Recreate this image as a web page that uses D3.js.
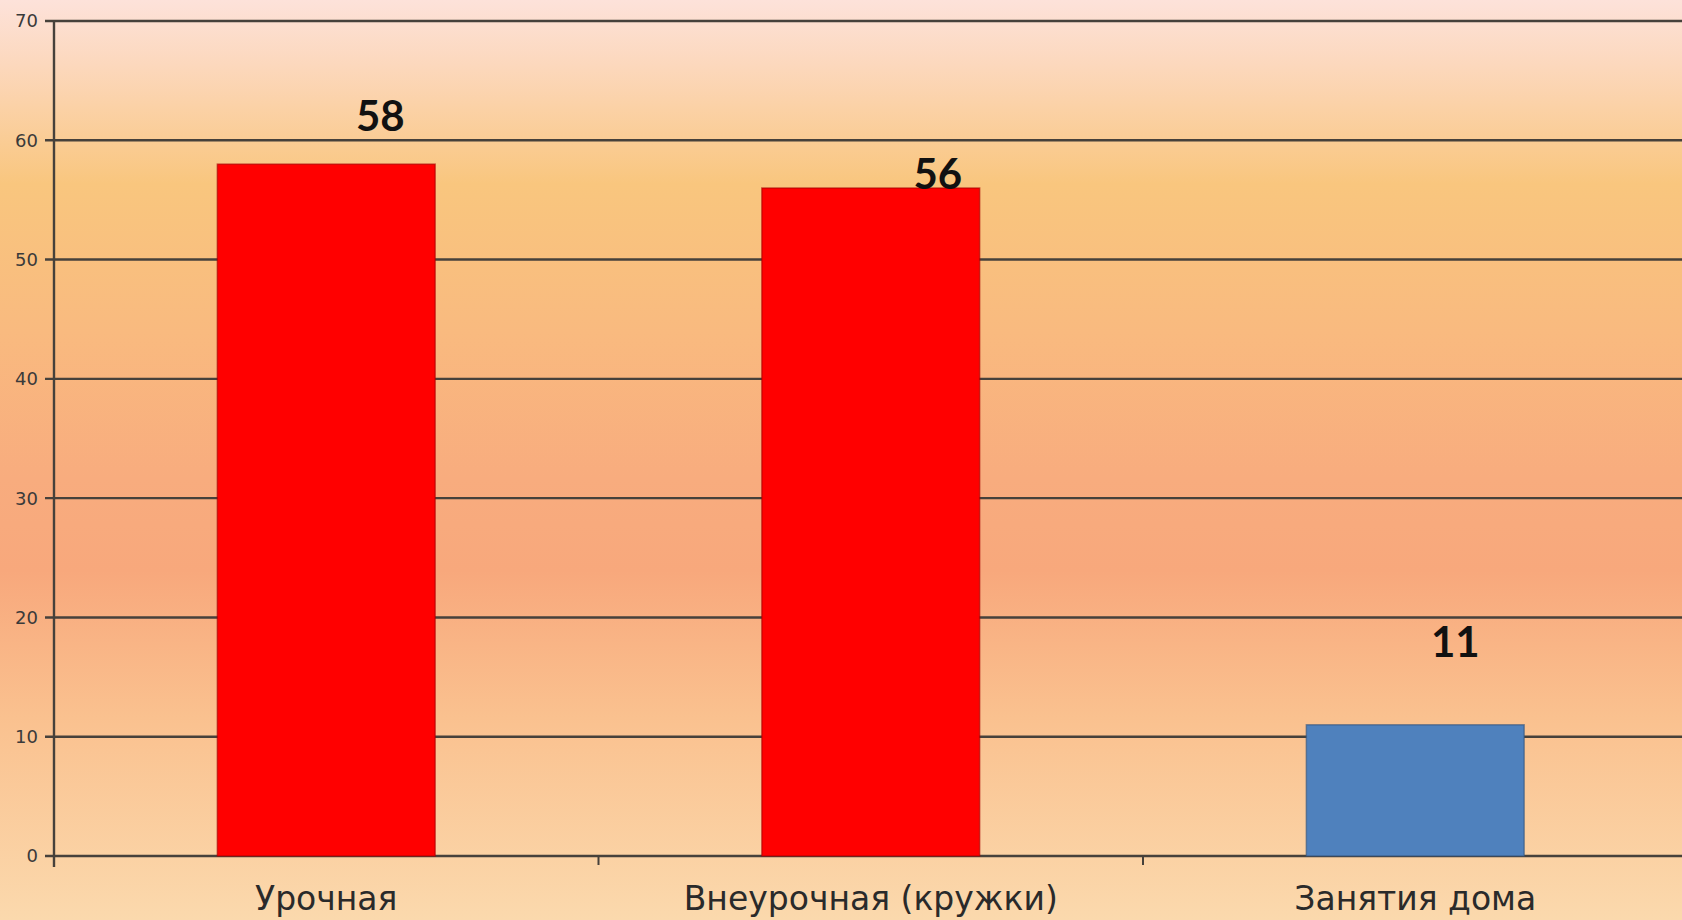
<!DOCTYPE html>
<html>
<head>
<meta charset="utf-8">
<script src="https://cdn.jsdelivr.net/npm/d3@7"></script>
<style>
  body { margin: 0; overflow: hidden; }
  svg { display: block; }
  .grid line { stroke: #46413b; stroke-width: 2.4; }
  .ytick text { font-family: "DejaVu Sans", Verdana, sans-serif; font-size: 18px; fill: #3a3a3a; }
  .xlab { font-family: "DejaVu Sans", Verdana, sans-serif; font-size: 33px; fill: #2a2a2a; }
  .vlab { font-family: Lato, "Liberation Sans", sans-serif; font-weight: bold; font-size: 42px; fill: #111; }
</style>
</head>
<body>
<svg width="1682" height="920"></svg>
<script>
// data
const categories = ["Урочная", "Внеурочная (кружки)", "Занятия дома"];
const values = [58, 56, 11];
const barColors = ["#ff0000", "#ff0000", "#4f81bd"];
const yTicks = [0, 10, 20, 30, 40, 50, 60, 70];

const W = 1682, H = 920;
const plotLeft = 54, plotTop = 21, plotBottom = 856;
const step = 544.5;

const svg = d3.select("svg");

// background gradient
const grad = svg.append("defs").append("linearGradient")
    .attr("id", "bg").attr("x1", 0).attr("y1", 0).attr("x2", 0).attr("y2", 1);
[[0, "#fde2da"], [0.07, "#fcd8bd"], [0.2, "#f9c67e"], [0.36, "#f9ba7f"],
 [0.52, "#f8ac7e"], [0.62, "#f8a87c"], [0.78, "#fac18f"], [1, "#fbd9ad"]]
  .forEach(s => grad.append("stop").attr("offset", s[0]).attr("stop-color", s[1]));
svg.append("rect").attr("width", W).attr("height", H).attr("fill", "url(#bg)");

const x = d3.scaleBand().domain(categories)
    .range([plotLeft, plotLeft + step * categories.length])
    .paddingInner(0.6).paddingOuter(0.3);
const y = d3.scaleLinear().domain([0, 70]).range([plotBottom, plotTop]);

// gridlines
svg.append("g").attr("class", "grid")
  .selectAll("line").data(yTicks).join("line")
    .attr("x1", plotLeft - 9).attr("x2", W)
    .attr("y1", d => y(d)).attr("y2", d => y(d));

// y axis line
svg.append("line")
    .attr("x1", plotLeft).attr("x2", plotLeft).attr("y1", plotTop).attr("y2", plotBottom + 11)
    .attr("stroke", "#46413b").attr("stroke-width", 2.4);

// x axis ticks between categories
svg.append("g").selectAll("line").data(d3.range(1, categories.length)).join("line")
    .attr("x1", i => plotLeft + step * i).attr("x2", i => plotLeft + step * i)
    .attr("y1", plotBottom).attr("y2", plotBottom + 9)
    .attr("stroke", "#46413b").attr("stroke-width", 2);

// y tick labels
svg.append("g").attr("class", "ytick")
  .selectAll("text").data(yTicks).join("text")
    .attr("x", plotLeft - 16).attr("y", d => y(d))
    .attr("dy", "0.36em").attr("text-anchor", "end")
    .text(d => d);

// bars
svg.append("g").selectAll("rect").data(values).join("rect")
    .attr("x", (d, i) => x(categories[i]))
    .attr("width", x.bandwidth())
    .attr("y", d => y(d))
    .attr("height", d => y(0) - y(d))
    .attr("fill", (d, i) => barColors[i])
    .attr("stroke", (d, i) => d3.color(barColors[i]).darker(1.2))
    .attr("stroke-opacity", 0.6)
    .attr("stroke-width", 1.5);

// category labels
svg.append("g").selectAll("text").data(categories).join("text")
    .attr("class", "xlab")
    .attr("x", d => x(d) + x.bandwidth() / 2)
    .attr("y", 910)
    .attr("text-anchor", "middle")
    .text(d => d);

// value labels (hand placed in the original)
const nudge = [[54, -33], [67, 1], [40, -68]];
svg.append("g").selectAll("text").data(values).join("text")
    .attr("class", "vlab")
    .attr("x", (d, i) => x(categories[i]) + x.bandwidth() / 2 + nudge[i][0])
    .attr("y", (d, i) => y(d) + nudge[i][1])
    .attr("text-anchor", "middle")
    .text(d => d);
</script>
</body>
</html>
